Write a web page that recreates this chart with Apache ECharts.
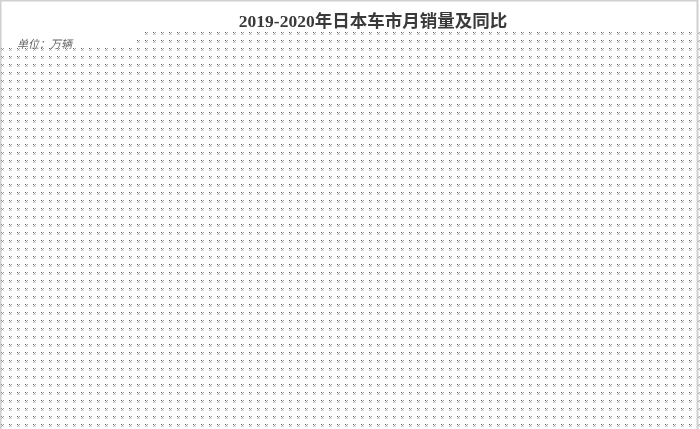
<!DOCTYPE html>
<html>
<head>
<meta charset="utf-8">
<script src="https://cdn.jsdelivr.net/npm/echarts@6/dist/echarts.min.js"></script>
<style>
html,body{margin:0;padding:0;background:#fff;}
#main{width:700px;height:429px;}
</style>
</head>
<body>
<div id="main"></div>
<script>
// Reference shows only the title, unit label and a dotted background; no marks are drawn.
const titleText = '2019-2020年日本车市月销量及同比';
const unitText = '单位：万辆';
const months = [];
const salesValues = [];
const yoyValues = [];

// dotted tile
const tile = document.createElement('canvas');
tile.width = 8; tile.height = 8;
const c = tile.getContext('2d');
function px(x, y, col){ c.fillStyle = col; c.fillRect(x, y, 1, 1); }
px(1,0,'#555555'); px(3,0,'#a0a0a0');
px(2,1,'#8a8a8a');
px(1,2,'#b0b0b0'); px(3,2,'#d0d0d0');

const chart = echarts.init(document.getElementById('main'), null, {renderer:'canvas'});
chart.setOption({
  backgroundColor: '#ffffff',
  animation: false,
  title: {
    text: titleText,
    left: 368, top: 9, textAlign: 'center',
    textStyle: {fontFamily: '"Liberation Serif", "Noto Sans CJK SC", serif', fontSize: 17.5, fontWeight: 'bold', color: '#3a3a3a'}
  },
  graphic: [
    {type:'rect', z:-10, shape:{x:0,y:0,width:700,height:429}, style:{fill:{image:tile, repeat:'repeat'}}},
    {type:'rect', z:-9, shape:{x:0,y:0,width:700,height:30}, style:{fill:'#fff'}},
    {type:'rect', z:-9, shape:{x:0,y:0,width:143,height:38}, style:{fill:'#fff'}},
    {type:'rect', z:-9, shape:{x:0,y:0,width:135,height:46}, style:{fill:'#fff'}},
    {type:'rect', z:-8, shape:{x:0.5,y:0.5,width:697,height:440}, style:{fill:null, stroke:'#d0d0d0', lineWidth:2}},
    {type:'text', z:-7, left:17, top:38, style:{text:unitText, fill:'#666', fontSize:11, fontStyle:'italic', fontFamily:'"Noto Sans CJK SC", sans-serif'}}
  ],
  grid: {left: 50, right: 50, top: 60, bottom: 40},
  xAxis: {type:'category', data: months, show:false},
  yAxis: [{type:'value', show:false}, {type:'value', show:false}],
  series: [
    {type:'bar', name:'销量', data: salesValues},
    {type:'line', name:'同比', yAxisIndex:1, data: yoyValues}
  ]
});
</script>
</body>
</html>
